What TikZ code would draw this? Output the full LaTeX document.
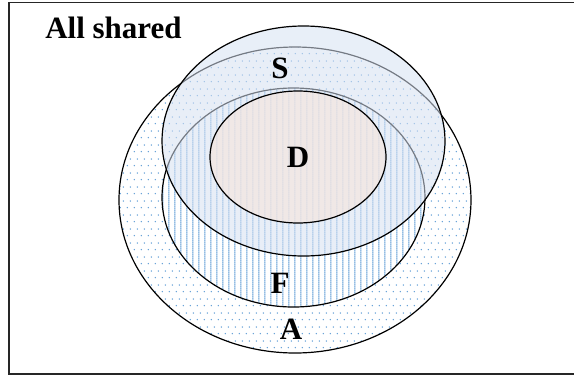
\documentclass[tikz,border=0pt]{standalone}
\usepackage{fontspec}
\setmainfont{Liberation Serif}
\usetikzlibrary{patterns.meta}

\definecolor{dotblue}{HTML}{5B9BD5}
\definecolor{lineblue}{HTML}{5B9BD5}
\definecolor{sfill}{HTML}{D6E1F2}
\definecolor{dfill}{HTML}{F4E6E0}

% sparse staggered dots
\tikzdeclarepattern{
  name=sparsedots,
  type=colored,
  bottom left={(0pt,0pt)},
  top right={(7pt,14pt)},
  tile size={(7pt,14pt)},
  code={
    \fill[dotblue] (1.5pt,1.5pt) circle (0.8pt);
    \fill[dotblue] (5pt,8.5pt) circle (0.8pt);
  }
}
% thin vertical hatching
\tikzdeclarepattern{
  name=vhatch,
  type=colored,
  bottom left={(0pt,0pt)},
  top right={(6pt,2pt)},
  tile size={(6pt,2pt)},
  code={
    \draw[lineblue, line width=1.1pt] (1pt,-0.5pt) -- (1pt,2.5pt);
  }
}

\tikzset{
  outline/.style={draw=black, line width=1.2pt},
  setlabel/.style={anchor=base, inner sep=0pt,
    font=\bfseries\fontsize{31}{36}\selectfont}
}

\begin{document}
\begin{tikzpicture}[x=1pt, y=-1pt]
  \useasboundingbox (0,0) rectangle (574,376);

  % frame
  \draw[line width=1.2pt, draw=black!85] (9,2.5) rectangle (574.5,374);

  % A: all
  \fill[white] (295,200) ellipse [x radius=176pt, y radius=153pt];
  \fill[pattern=sparsedots] (295,200) ellipse [x radius=176pt, y radius=153pt];
  \draw[outline] (295,200) ellipse [x radius=176pt, y radius=153pt];

  % F
  \fill[white] (293.5,197.5) ellipse [x radius=131.5pt, y radius=109.5pt];
  \fill[pattern=vhatch] (293.5,197.5) ellipse [x radius=131.5pt, y radius=109.5pt];
  \draw[outline] (293.5,197.5) ellipse [x radius=131.5pt, y radius=109.5pt];

  % S: translucent
  \fill[sfill, fill opacity=0.55] (303.5,141) ellipse [x radius=141.5pt, y radius=115pt];
  \draw[outline] (303.5,141) ellipse [x radius=141.5pt, y radius=115pt];

  % D
  \fill[dfill, fill opacity=0.7] (298,157) ellipse [x radius=88pt, y radius=66pt];
  \draw[outline] (298,157) ellipse [x radius=88pt, y radius=66pt];

  % labels
  \node[setlabel] (all) at (113.5,38) {All shared};
  \node[setlabel] (lblS) at (280,78) {S};
  \node[setlabel] (lblD) at (298,167) {D};
  \node[setlabel] (lblF) at (280,293) {F};
  \node[setlabel] (lblA) at (291,339) {A};
\end{tikzpicture}
\end{document}
